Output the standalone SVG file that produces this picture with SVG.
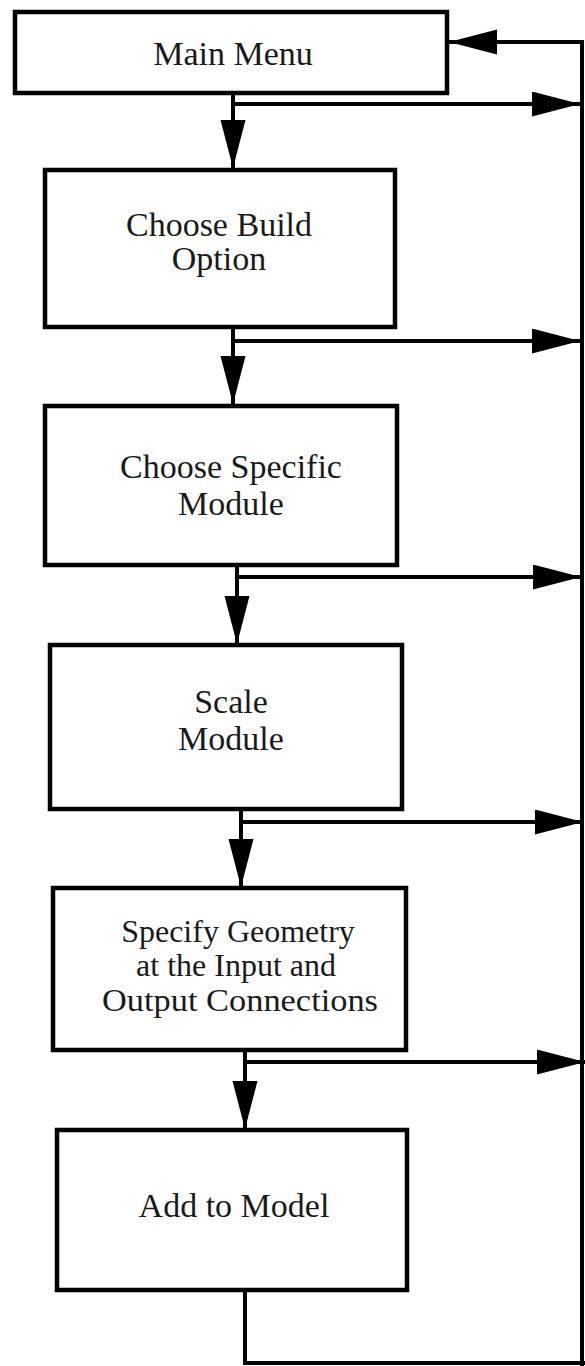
<svg xmlns="http://www.w3.org/2000/svg" width="585" height="1366" viewBox="0 0 585 1366">
  <style>
    .box { fill: #ffffff; stroke: #000000; stroke-width: 4.5; }
    .lbl { font-family: "Liberation Serif", "Times New Roman", serif; font-size: 34px; fill: #1a1a1a; text-anchor: middle; }
    .lbl.tight { font-size: 32px; }
    .wire { fill: none; stroke: #000000; stroke-width: 4; }
  </style>
  <defs>
    <marker id="head" markerUnits="userSpaceOnUse" markerWidth="50" markerHeight="26" refX="48" refY="12.5" orient="auto">
      <path d="M0,0 L48,12.5 L0,25 Z" fill="#000000"/>
    </marker>
  </defs>
  <rect width="585" height="1366" fill="#ffffff"/>

  <g id="connectors">
    <!-- return path along the right edge back to the main menu -->
    <line class="wire" x1="582" y1="40" x2="582" y2="1366"/>
    <line class="wire" x1="584" y1="42" x2="449" y2="42" marker-end="url(#head)"/>
    <polyline class="wire" points="245,1290 245,1363 585,1363"/>

    <!-- main menu -->
    <line class="wire" x1="233" y1="93" x2="233" y2="168" marker-end="url(#head)"/>
    <line class="wire" x1="233" y1="104" x2="580" y2="104" marker-end="url(#head)"/>

    <!-- build option -->
    <line class="wire" x1="233" y1="327" x2="233" y2="404" marker-end="url(#head)"/>
    <line class="wire" x1="233" y1="341" x2="580" y2="341" marker-end="url(#head)"/>

    <!-- specific module -->
    <line class="wire" x1="237" y1="565" x2="237" y2="644" marker-end="url(#head)"/>
    <line class="wire" x1="237" y1="577" x2="581" y2="577" marker-end="url(#head)"/>

    <!-- scale module -->
    <line class="wire" x1="241" y1="809" x2="241" y2="887" marker-end="url(#head)"/>
    <line class="wire" x1="241" y1="822" x2="583" y2="822" marker-end="url(#head)"/>

    <!-- geometry -->
    <line class="wire" x1="245" y1="1050" x2="245" y2="1129" marker-end="url(#head)"/>
    <line class="wire" x1="245" y1="1062" x2="585" y2="1062" marker-end="url(#head)"/>
  </g>

  <g id="main-menu">
    <rect class="box" x="15" y="12" width="432" height="81"/>
    <text class="lbl" x="233" y="65">Main Menu</text>
  </g>

  <g id="choose-build-option">
    <rect class="box" x="45" y="170" width="350" height="157"/>
    <text class="lbl" x="219" y="236">Choose Build</text>
    <text class="lbl" x="219" y="270">Option</text>
  </g>

  <g id="choose-specific-module">
    <rect class="box" x="45" y="406" width="352" height="159"/>
    <text class="lbl" x="231" y="478">Choose Specific</text>
    <text class="lbl" x="231" y="515">Module</text>
  </g>

  <g id="scale-module">
    <rect class="box" x="50" y="645" width="352" height="164"/>
    <text class="lbl" x="231" y="713">Scale</text>
    <text class="lbl" x="231" y="750">Module</text>
  </g>

  <g id="specify-geometry">
    <rect class="box" x="53" y="888" width="353" height="162"/>
    <text class="lbl tight" x="238" y="942">Specify Geometry</text>
    <text class="lbl tight" x="236" y="976">at the Input and</text>
    <text class="lbl tight" x="240" y="1011" textLength="276" lengthAdjust="spacingAndGlyphs">Output Connections</text>
  </g>

  <g id="add-to-model">
    <rect class="box" x="57" y="1130" width="350" height="160"/>
    <text class="lbl" x="234" y="1217">Add to Model</text>
  </g>
</svg>
